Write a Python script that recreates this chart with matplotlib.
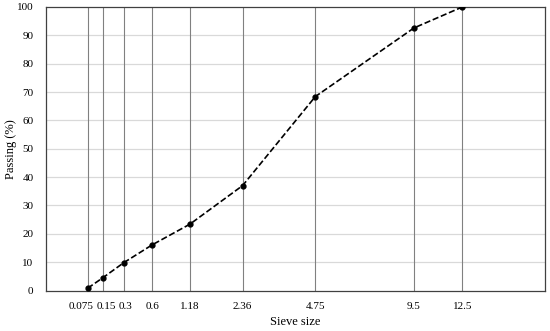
import matplotlib.pyplot as plt
import matplotlib.transforms as mtrans
import numpy as np

sieve = [0.075, 0.15, 0.3, 0.6, 1.18, 2.36, 4.75, 9.5, 12.5]
sieve_labels = ['0.075', '0.15', '0.3', '0.6', '1.18', '2.36', '4.75', '9.5', '12.5']
passing = [0.8, 4.5, 9.8, 16.1, 23.4, 37.0, 68.4, 92.6, 100.0]

plt.rcParams['font.family'] = ['Liberation Serif']

fig = plt.figure(figsize=(5.5, 3.31), dpi=100)
ax = fig.add_axes([46/550, 1-290.5/331, (545-46)/550, (290.5-7)/331])

# 0.45 power scale for the sieve sizes
ax.set_xscale('function', functions=(lambda x: np.power(np.clip(x, 0, None), 0.45),
                                     lambda y: np.power(np.clip(y, 0, None), 1/0.45)))
ax.set_xlim(0, 18.7)
ax.set_ylim(0, 100)

for y in range(10, 100, 10):
    ax.axhline(y, color='#d9d9d9', lw=0.9, zorder=0)
for s in sieve:
    ax.axvline(s, color='#808080', lw=0.8, zorder=1)

ax.plot(sieve, passing, ls='--', color='black', lw=1.2, marker='o', ms=3.5, zorder=3)

ax.set_xticks(sieve)
ax.set_xticklabels(sieve_labels)
ax.set_yticks(range(0, 101, 10))
ax.tick_params(axis='x', length=0, pad=8, labelsize=8)
ax.tick_params(axis='y', length=0, pad=9, labelsize=8)
for sp in ax.spines.values():
    sp.set_color('#404040')
    sp.set_linewidth(0.9)

# nudge the crowded labels apart like the original
shifts = {'0.075': -7, '0.15': 3, '0.3': 2}
for lab in ax.get_xticklabels():
    dx = shifts.get(lab.get_text(), 0)
    if dx:
        lab.set_transform(lab.get_transform() + mtrans.ScaledTranslation(dx/100, 0, fig.dpi_scale_trans))

ax.set_xlabel('Sieve size', fontsize=9)
ax.set_ylabel('Passing (%)', fontsize=9)
ax.xaxis.set_label_coords(0.5, -0.111)
ax.xaxis.label.set_va('center')
ax.yaxis.set_label_coords(-0.07, 0.5)
ax.yaxis.label.set_va('center')

fig.savefig('out.png', dpi=100)
